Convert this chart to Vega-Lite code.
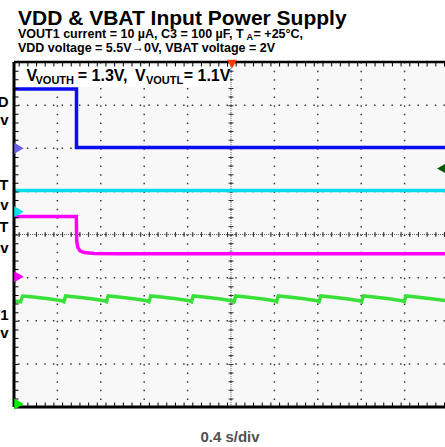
{
 "$schema": "https://vega.github.io/schema/vega-lite/v6.json",
 "width": 431, "height": 345,
 "autosize": {"type": "none"},
 "padding": {"left": 14, "top": 62, "right": 0, "bottom": 40},
 "background": "white",
 "config": {"view": {"stroke": null, "fill": "#f8f8f8"}, "font": "Liberation Sans"},
 "data": {"values": [{}]},
 "datasets": {
  "gx": [{"v":1},{"v":2},{"v":3},{"v":4},{"v":5},{"v":6},{"v":7},{"v":8},{"v":9}],
  "gy": [{"v":1},{"v":2},{"v":3},{"v":4},{"v":5},{"v":6},{"v":7}],
  "traces": [
   {"ch":"VDD","i":0,"x":0,"y":7.374},{"ch":"VDD","i":1,"x":1.44,"y":7.374},{"ch":"VDD","i":2,"x":1.44,"y":6.017},{"ch":"VDD","i":3,"x":9.931,"y":6.017},
   {"ch":"VBAT","i":0,"x":0,"y":5.02},{"ch":"VBAT","i":1,"x":9.931,"y":5.02},
   {"ch":"VOUT","i":0,"x":0,"y":4.417},{"ch":"VOUT","i":1,"x":1.435,"y":4.417},{"ch":"VOUT","i":2,"x":1.445,"y":3.85},{"ch":"VOUT","i":3,"x":1.47,"y":3.70},{"ch":"VOUT","i":4,"x":1.52,"y":3.62},{"ch":"VOUT","i":5,"x":1.62,"y":3.58},{"ch":"VOUT","i":6,"x":1.85,"y":3.56},{"ch":"VOUT","i":7,"x":2.5,"y":3.555},{"ch":"VOUT","i":8,"x":9.931,"y":3.555},
   {"ch":"VOUT1","i":0,"x":0,"y":2.46},{"ch":"VOUT1","i":1,"x":0.15,"y":2.44},{"ch":"VOUT1","i":2,"x":0.2,"y":2.574},{"ch":"VOUT1","i":3,"x":0.45,"y":2.55},{"ch":"VOUT1","i":4,"x":0.8,"y":2.51},{"ch":"VOUT1","i":5,"x":1.1,"y":2.465},
   {"ch":"VOUT1","i":6,"x":1.15,"y":2.44},{"ch":"VOUT1","i":7,"x":1.19,"y":2.574},{"ch":"VOUT1","i":8,"x":1.43,"y":2.55},{"ch":"VOUT1","i":9,"x":1.78,"y":2.51},{"ch":"VOUT1","i":10,"x":2.08,"y":2.465},
   {"ch":"VOUT1","i":11,"x":2.13,"y":2.44},{"ch":"VOUT1","i":12,"x":2.17,"y":2.574},{"ch":"VOUT1","i":13,"x":2.41,"y":2.55},{"ch":"VOUT1","i":14,"x":2.76,"y":2.51},{"ch":"VOUT1","i":15,"x":3.06,"y":2.465},
   {"ch":"VOUT1","i":16,"x":3.11,"y":2.44},{"ch":"VOUT1","i":17,"x":3.15,"y":2.574},{"ch":"VOUT1","i":18,"x":3.39,"y":2.55},{"ch":"VOUT1","i":19,"x":3.74,"y":2.51},{"ch":"VOUT1","i":20,"x":4.04,"y":2.465},
   {"ch":"VOUT1","i":21,"x":4.09,"y":2.44},{"ch":"VOUT1","i":22,"x":4.13,"y":2.574},{"ch":"VOUT1","i":23,"x":4.37,"y":2.55},{"ch":"VOUT1","i":24,"x":4.72,"y":2.51},{"ch":"VOUT1","i":25,"x":5.02,"y":2.465},
   {"ch":"VOUT1","i":26,"x":5.07,"y":2.44},{"ch":"VOUT1","i":27,"x":5.11,"y":2.574},{"ch":"VOUT1","i":28,"x":5.35,"y":2.55},{"ch":"VOUT1","i":29,"x":5.7,"y":2.51},{"ch":"VOUT1","i":30,"x":6.0,"y":2.465},
   {"ch":"VOUT1","i":31,"x":6.05,"y":2.44},{"ch":"VOUT1","i":32,"x":6.09,"y":2.574},{"ch":"VOUT1","i":33,"x":6.33,"y":2.55},{"ch":"VOUT1","i":34,"x":6.68,"y":2.51},{"ch":"VOUT1","i":35,"x":6.98,"y":2.465},
   {"ch":"VOUT1","i":36,"x":7.03,"y":2.44},{"ch":"VOUT1","i":37,"x":7.07,"y":2.574},{"ch":"VOUT1","i":38,"x":7.31,"y":2.55},{"ch":"VOUT1","i":39,"x":7.66,"y":2.51},{"ch":"VOUT1","i":40,"x":7.96,"y":2.465},
   {"ch":"VOUT1","i":41,"x":8.01,"y":2.44},{"ch":"VOUT1","i":42,"x":8.05,"y":2.574},{"ch":"VOUT1","i":43,"x":8.29,"y":2.55},{"ch":"VOUT1","i":44,"x":8.64,"y":2.51},{"ch":"VOUT1","i":45,"x":8.94,"y":2.465},
   {"ch":"VOUT1","i":46,"x":8.99,"y":2.44},{"ch":"VOUT1","i":47,"x":9.03,"y":2.574},{"ch":"VOUT1","i":48,"x":9.27,"y":2.55},{"ch":"VOUT1","i":49,"x":9.62,"y":2.51},{"ch":"VOUT1","i":50,"x":9.931,"y":2.47}
  ],
  "markers": [{"ch":"VDD","y":6.0},{"ch":"VBAT","y":4.529},{"ch":"VOUT","y":3.022},{"ch":"VOUT1","y":0.07}],
  "trig": [{"m":"position","x":5.023,"y":7.95},{"m":"level","x":9.85,"y":5.53}],
  "txt": [
   {"r":"title","x":0.092,"y":8.858,"t":"VDD & VBAT Input Power Supply"},
   {"r":"sub","x":0.092,"y":8.549,"t":"VOUT1 current = 10 µA, C3 = 100 µF, T"},
   {"r":"subsmall","x":5.36,"y":8.499,"t":"A"},
   {"r":"sub","x":5.52,"y":8.549,"t":"= +25°C,"},
   {"r":"sub","x":0.092,"y":8.239,"t":"VDD voltage = 5.5V→0V, VBAT voltage = 2V"},
   {"r":"ann","x":0.288,"y":7.548,"t":"V"},
   {"r":"annsub","x":0.495,"y":7.501,"t":"VOUTH"},
   {"r":"ann","x":1.47,"y":7.548,"t":"= 1.3V,"},
   {"r":"ann","x":2.788,"y":7.548,"t":"V"},
   {"r":"annsub","x":3.041,"y":7.501,"t":"VOUTL"},
   {"r":"ann","x":3.91,"y":7.548,"t":"= 1.1V"},
   {"r":"lab","x":-0.127,"y":6.963,"t":"VDD"},
   {"r":"lab","x":-0.127,"y":6.539,"t":"2V/div"},
   {"r":"lab","x":-0.127,"y":5.032,"t":"VBAT"},
   {"r":"lab","x":-0.127,"y":4.568,"t":"1V/div"},
   {"r":"lab","x":-0.127,"y":4.065,"t":"VOUT"},
   {"r":"lab","x":-0.127,"y":3.564,"t":"1V/div"},
   {"r":"lab","x":-0.127,"y":2.017,"t":"VOUT1"},
   {"r":"lab","x":-0.127,"y":1.593,"t":"1V/div"},
   {"r":"foot","x":4.977,"y":-0.812,"t":"0.4 s/div"}
  ]
 },
 "layer": [
  {"data":{"name":"gx"},"mark":{"type":"rule","color":"#3a3a3a","strokeWidth":1.5,"strokeDash":[1.5,7.125]},
   "encoding":{"x":{"field":"v","type":"quantitative","scale":{"domain":[0,9.931],"nice":false,"zero":false},"axis":null}}},
  {"data":{"name":"gy"},"mark":{"type":"rule","color":"#3a3a3a","strokeWidth":1.5,"strokeDash":[1.5,7.18]},
   "encoding":{"y":{"field":"v","type":"quantitative","scale":{"domain":[0,8],"nice":false,"zero":false},"axis":null}}},
  {"mark":{"type":"rule","color":"#666","strokeWidth":1,"strokeDash":[1,1]},
   "encoding":{"y":{"datum":4,"type":"quantitative","scale":{"domain":[0,8],"nice":false,"zero":false},"axis":null}}},
  {"mark":{"type":"rule","color":"#333","strokeWidth":5,"strokeDash":[1,7.68],"clip":true},
   "encoding":{"y":{"datum":4,"type":"quantitative","scale":{"domain":[0,8],"nice":false,"zero":false},"axis":null}}},
  {"mark":{"type":"rule","color":"#666","strokeWidth":1,"strokeDash":[1,1]},
   "encoding":{"x":{"datum":5,"type":"quantitative","scale":{"domain":[0,9.931],"nice":false,"zero":false},"axis":null}}},
  {"mark":{"type":"rule","color":"#333","strokeWidth":5,"strokeDash":[1,7.625],"clip":true},
   "encoding":{"x":{"datum":5,"type":"quantitative","scale":{"domain":[0,9.931],"nice":false,"zero":false},"axis":null}}},
  {"data":{"name":"traces"},"mark":{"type":"line","strokeWidth":3.5,"clip":true},
   "encoding":{
    "x":{"field":"x","type":"quantitative","scale":{"domain":[0,9.931],"nice":false,"zero":false},"axis":null},
    "y":{"field":"y","type":"quantitative","scale":{"domain":[0,8],"nice":false,"zero":false},"axis":null},
    "color":{"field":"ch","type":"nominal","scale":{"domain":["VDD","VBAT","VOUT","VOUT1"],"range":["#0c0cf0","#00dce8","#ff00ff","#38e038"]},"legend":null},
    "order":{"field":"i","type":"quantitative"}}},
  {"mark":{"type":"rect","fill":"white"},
   "encoding":{
    "x":{"datum":0.046,"type":"quantitative","scale":{"domain":[0,9.931],"nice":false,"zero":false},"axis":null},
    "x2":{"datum":4.977},
    "y":{"datum":7.42,"type":"quantitative","scale":{"domain":[0,8],"nice":false,"zero":false},"axis":null},
    "y2":{"datum":7.907}}},
  {"data":{"name":"txt"},"transform":[{"filter":"datum.r=='title'"}],
   "mark":{"type":"text","align":"left","baseline":"alphabetic","fontSize":21,"fontWeight":"bold","font":"Liberation Sans","color":"black"},
   "encoding":{"x":{"field":"x","type":"quantitative","scale":{"domain":[0,9.931],"nice":false,"zero":false},"axis":null},"y":{"field":"y","type":"quantitative","scale":{"domain":[0,8],"nice":false,"zero":false},"axis":null},"text":{"field":"t"}}},
  {"data":{"name":"txt"},"transform":[{"filter":"datum.r=='sub'"}],
   "mark":{"type":"text","align":"left","baseline":"alphabetic","fontSize":12.5,"fontWeight":"bold","font":"Liberation Sans","color":"black"},
   "encoding":{"x":{"field":"x","type":"quantitative","scale":{"domain":[0,9.931],"nice":false,"zero":false},"axis":null},"y":{"field":"y","type":"quantitative","scale":{"domain":[0,8],"nice":false,"zero":false},"axis":null},"text":{"field":"t"}}},
  {"data":{"name":"txt"},"transform":[{"filter":"datum.r=='subsmall'"}],
   "mark":{"type":"text","align":"left","baseline":"alphabetic","fontSize":9,"fontWeight":"bold","font":"Liberation Sans","color":"black"},
   "encoding":{"x":{"field":"x","type":"quantitative","scale":{"domain":[0,9.931],"nice":false,"zero":false},"axis":null},"y":{"field":"y","type":"quantitative","scale":{"domain":[0,8],"nice":false,"zero":false},"axis":null},"text":{"field":"t"}}},
  {"data":{"name":"txt"},"transform":[{"filter":"datum.r=='ann'"}],
   "mark":{"type":"text","align":"left","baseline":"alphabetic","fontSize":16,"fontWeight":"bold","font":"Liberation Sans","color":"black"},
   "encoding":{"x":{"field":"x","type":"quantitative","scale":{"domain":[0,9.931],"nice":false,"zero":false},"axis":null},"y":{"field":"y","type":"quantitative","scale":{"domain":[0,8],"nice":false,"zero":false},"axis":null},"text":{"field":"t"}}},
  {"data":{"name":"txt"},"transform":[{"filter":"datum.r=='annsub'"}],
   "mark":{"type":"text","align":"left","baseline":"alphabetic","fontSize":11,"fontWeight":"bold","font":"Liberation Sans","color":"black"},
   "encoding":{"x":{"field":"x","type":"quantitative","scale":{"domain":[0,9.931],"nice":false,"zero":false},"axis":null},"y":{"field":"y","type":"quantitative","scale":{"domain":[0,8],"nice":false,"zero":false},"axis":null},"text":{"field":"t"}}},
  {"data":{"name":"txt"},"transform":[{"filter":"datum.r=='lab'"}],
   "mark":{"type":"text","align":"right","baseline":"alphabetic","fontSize":15,"fontWeight":"bold","font":"Liberation Sans","color":"black"},
   "encoding":{"x":{"field":"x","type":"quantitative","scale":{"domain":[0,9.931],"nice":false,"zero":false},"axis":null},"y":{"field":"y","type":"quantitative","scale":{"domain":[0,8],"nice":false,"zero":false},"axis":null},"text":{"field":"t"}}},
  {"data":{"name":"txt"},"transform":[{"filter":"datum.r=='foot'"}],
   "mark":{"type":"text","align":"center","baseline":"alphabetic","fontSize":15,"fontWeight":"bold","font":"Liberation Sans","color":"#505050"},
   "encoding":{"x":{"field":"x","type":"quantitative","scale":{"domain":[0,9.931],"nice":false,"zero":false},"axis":null},"y":{"field":"y","type":"quantitative","scale":{"domain":[0,8],"nice":false,"zero":false},"axis":null},"text":{"field":"t"}}},
  {"mark":{"type":"rule","color":"black","strokeWidth":9,"strokeDash":[1,7.68],"clip":true},
   "encoding":{"y":{"datum":8,"type":"quantitative","scale":{"domain":[0,8],"nice":false,"zero":false},"axis":null}}},
  {"mark":{"type":"rule","color":"black","strokeWidth":9,"strokeDash":[1,7.68],"clip":true},
   "encoding":{"y":{"datum":0,"type":"quantitative","scale":{"domain":[0,8],"nice":false,"zero":false},"axis":null}}},
  {"mark":{"type":"rule","color":"black","strokeWidth":9,"strokeDash":[1,7.625],"clip":true},
   "encoding":{"x":{"datum":0,"type":"quantitative","scale":{"domain":[0,9.931],"nice":false,"zero":false},"axis":null}}},
  {"mark":{"type":"rule","color":"black","strokeWidth":2.5},
   "encoding":{"y":{"datum":8,"type":"quantitative","scale":{"domain":[0,8],"nice":false,"zero":false},"axis":null}}},
  {"mark":{"type":"rule","color":"black","strokeWidth":3},
   "encoding":{"y":{"datum":0,"type":"quantitative","scale":{"domain":[0,8],"nice":false,"zero":false},"axis":null}}},
  {"mark":{"type":"rule","color":"black","strokeWidth":3},
   "encoding":{"x":{"datum":0,"type":"quantitative","scale":{"domain":[0,9.931],"nice":false,"zero":false},"axis":null}}},
  {"data":{"name":"markers"},"mark":{"type":"point","shape":"triangle-right","filled":true,"size":120,"opacity":1,"xOffset":5},
   "encoding":{
    "x":{"datum":0,"type":"quantitative","scale":{"domain":[0,9.931],"nice":false,"zero":false},"axis":null},
    "y":{"field":"y","type":"quantitative","scale":{"domain":[0,8],"nice":false,"zero":false},"axis":null},
    "color":{"field":"ch","type":"nominal","scale":{"domain":["VDD","VBAT","VOUT","VOUT1"],"range":["#6a62e2","#00e0f0","#f000f0","#00f000"]},"legend":null}}},
  {"data":{"name":"trig"},"mark":{"type":"point","filled":true,"size":100,"opacity":1},
   "encoding":{
    "x":{"field":"x","type":"quantitative","scale":{"domain":[0,9.931],"nice":false,"zero":false},"axis":null},
    "y":{"field":"y","type":"quantitative","scale":{"domain":[0,8],"nice":false,"zero":false},"axis":null},
    "shape":{"field":"m","type":"nominal","scale":{"domain":["position","level"],"range":["triangle-down","triangle-left"]},"legend":null},
    "color":{"field":"m","type":"nominal","scale":{"domain":["position","level"],"range":["#ff3a00","#005a00"]},"legend":null}}}
 ],
 "resolve": {"scale": {"color": "independent", "shape": "independent"}}
}
